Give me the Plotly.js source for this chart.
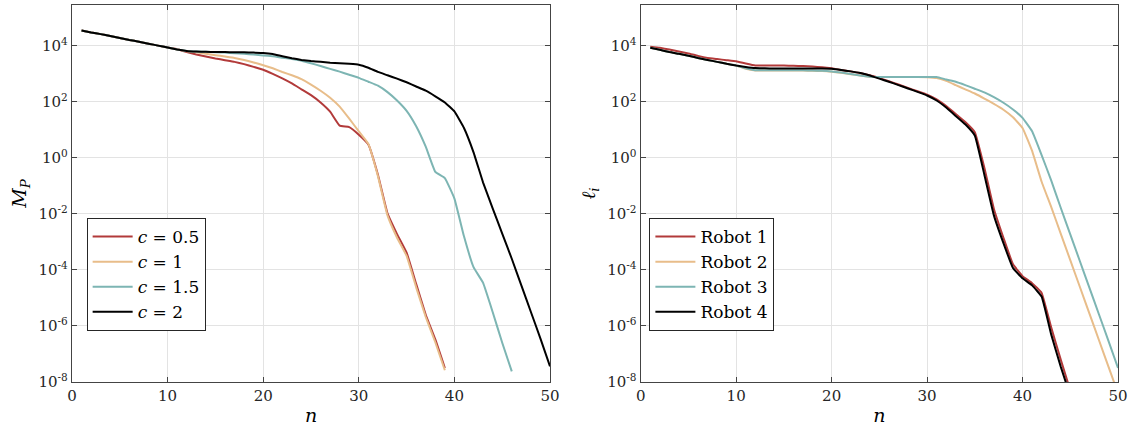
<!DOCTYPE html>
<html>
<head>
<meta charset="utf-8">
<script src="https://cdn.plot.ly/plotly-3.0.1.min.js"></script>
<style>
html,body{margin:0;padding:0;background:#fff;}
#chart{width:1139px;height:431px;}
</style>
</head>
<body>
<div id="chart"></div>
<script>
// ---------- data (log10 of the plotted values) ----------
var n = [1,2,3,4,5,6,7,8,9,10,11,12,13,14,15,16,17,18,19,20,21,22,23,24,25,26,27,28,29,30,31,32,33,34,35,36,37,38,39,40,41,42,43,44,45,46,47,48,49,50];

// Left panel: M_P for c = 0.5, 1, 1.5, 2
var logMP_c05 = [4.55,4.48,4.42,4.35,4.28,4.21,4.15,4.08,4.01,3.94,3.88,3.78,3.69,3.62,3.55,3.49,3.43,3.35,3.25,3.15,3.00,2.84,2.66,2.45,2.24,1.98,1.65,1.15,1.10,0.83,0.48,-0.60,-1.98,-2.72,-3.38,-4.50,-5.60,-6.48,-7.50];
var logMP_c1  = [4.55,4.48,4.42,4.35,4.28,4.21,4.15,4.08,4.01,3.94,3.87,3.81,3.77,3.72,3.67,3.62,3.57,3.50,3.41,3.31,3.20,3.07,2.95,2.81,2.62,2.40,2.15,1.83,1.40,0.95,0.50,-0.65,-2.05,-2.85,-3.50,-4.62,-5.68,-6.58,-7.58];
var logMP_c15 = [4.55,4.48,4.42,4.35,4.28,4.21,4.15,4.08,4.01,3.94,3.87,3.82,3.80,3.79,3.77,3.76,3.74,3.72,3.69,3.66,3.63,3.58,3.53,3.47,3.38,3.28,3.18,3.08,2.97,2.86,2.72,2.58,2.35,2.05,1.68,1.13,0.40,-0.50,-0.72,-1.45,-2.80,-3.90,-4.46,-5.50,-6.60,-7.62];
var logMP_c2  = [4.55,4.48,4.42,4.35,4.28,4.21,4.15,4.08,4.01,3.94,3.87,3.82,3.80,3.79,3.78,3.78,3.77,3.77,3.76,3.75,3.71,3.63,3.56,3.50,3.46,3.43,3.40,3.38,3.36,3.33,3.22,3.07,2.95,2.83,2.70,2.55,2.40,2.20,1.98,1.66,1.07,0.20,-0.88,-1.80,-2.70,-3.60,-4.55,-5.50,-6.45,-7.44];

// Right panel: l_i for Robots 1..4
var logL_r1 = [3.97,3.93,3.87,3.80,3.73,3.64,3.57,3.53,3.49,3.45,3.37,3.30,3.30,3.30,3.30,3.29,3.28,3.26,3.24,3.20,3.14,3.09,3.03,2.95,2.85,2.74,2.62,2.50,2.38,2.26,2.09,1.85,1.57,1.28,0.92,-0.35,-1.82,-2.85,-3.80,-4.22,-4.47,-4.82,-6.05,-7.20,-8.30];
var logL_r2 = [3.93,3.86,3.78,3.72,3.65,3.57,3.50,3.43,3.36,3.30,3.18,3.12,3.12,3.12,3.12,3.12,3.12,3.11,3.10,3.08,3.04,2.99,2.94,2.90,2.89,2.89,2.89,2.89,2.89,2.88,2.85,2.75,2.60,2.45,2.30,2.12,1.93,1.72,1.45,1.07,0.25,-0.85,-1.75,-2.70,-3.65,-4.60,-5.55,-6.50,-7.45,-8.40];
var logL_r3 = [3.93,3.86,3.78,3.72,3.65,3.57,3.50,3.43,3.36,3.30,3.20,3.13,3.13,3.13,3.13,3.13,3.13,3.12,3.11,3.09,3.05,3.00,2.94,2.90,2.89,2.89,2.89,2.89,2.89,2.89,2.89,2.80,2.72,2.60,2.47,2.34,2.17,1.97,1.73,1.43,0.95,0.10,-0.80,-1.78,-2.73,-3.68,-4.63,-5.58,-6.53,-7.50];
var logL_r4 = [3.93,3.86,3.78,3.72,3.65,3.57,3.50,3.43,3.36,3.30,3.25,3.21,3.20,3.19,3.19,3.19,3.19,3.19,3.19,3.18,3.14,3.09,3.03,2.94,2.83,2.72,2.60,2.48,2.36,2.23,2.05,1.80,1.50,1.20,0.80,-0.60,-2.05,-3.04,-3.93,-4.30,-4.55,-4.95,-6.30,-7.45,-8.50];

var leftNames  = ['<i>c</i> = 0.5', '<i>c</i> = 1', '<i>c</i> = 1.5', '<i>c</i> = 2'];
var rightNames = ['Robot 1', 'Robot 2', 'Robot 3', 'Robot 4'];
var xTicks = [0,10,20,30,40,50];
var yTickVals = [1e-8,1e-6,1e-4,1e-2,1,1e2,1e4];
var yTickText = ['10<sup>-8</sup>','10<sup>-6</sup>','10<sup>-4</sup>','10<sup>-2</sup>','10<sup>0</sup>','10<sup>2</sup>','10<sup>4</sup>'];

// ---------- styling ----------
var colors = ['#b23a3a', '#e8bd8a', '#7db5b3', '#000000'];
var FONT = 'DejaVu Serif, Liberation Serif, serif';

function toVals(arr){ return arr.map(function(v){ return Math.pow(10, v); }); }

var leftSeries  = [logMP_c05, logMP_c1, logMP_c15, logMP_c2];
var rightSeries = [logL_r1, logL_r2, logL_r3, logL_r4];

var traces = [];
leftSeries.forEach(function(s, i){
  traces.push({
    x: n.slice(0, s.length), y: toVals(s), type: 'scatter', mode: 'lines',
    name: leftNames[i], xaxis: 'x', yaxis: 'y', legend: 'legend',
    line: {color: colors[i], width: 2, shape: 'spline', smoothing: 0.3}
  });
});
rightSeries.forEach(function(s, i){
  traces.push({
    x: n.slice(0, s.length), y: toVals(s), type: 'scatter', mode: 'lines',
    name: rightNames[i], xaxis: 'x2', yaxis: 'y2', legend: 'legend2',
    line: {color: colors[i], width: 2, shape: 'spline', smoothing: 0.3}
  });
});

function xAxis(domain, anchor){
  return {
    domain: domain, anchor: anchor, range: [0, 50],
    tickvals: xTicks, ticks: 'inside', ticklen: 5, tickcolor: '#444',
    showline: true, linecolor: '#444', linewidth: 1.2, mirror: 'ticks',
    showgrid: true, gridcolor: '#e3e3e3', gridwidth: 1, zeroline: false,
    tickfont: {family: FONT, size: 15, color: '#262626'},
    title: {text: '<i>n</i>', font: {family: FONT, size: 19, color: '#000'}, standoff: 4}
  };
}
function yAxis(anchor, title){
  return {
    type: 'log', anchor: anchor, range: [-8, 5.46],
    tickvals: yTickVals, ticktext: yTickText,
    ticks: 'inside', ticklen: 5, tickcolor: '#444',
    showline: true, linecolor: '#444', linewidth: 1.2, mirror: 'ticks',
    showgrid: true, gridcolor: '#e3e3e3', gridwidth: 1, zeroline: false,
    tickfont: {family: FONT, size: 15, color: '#262626'},
    title: {text: title, font: {family: FONT, size: 19, color: '#000'}, standoff: 6}
  };
}

var legendStyle = function(x){
  return {
    x: x, y: 0.435, xanchor: 'left', yanchor: 'top',
    bgcolor: '#ffffff', bordercolor: '#262626', borderwidth: 1,
    font: {family: FONT, size: 17, color: '#000'},
    tracegroupgap: 0, itemwidth: 40
  };
};

var layout = {
  width: 1139, height: 431,
  margin: {l: 72, r: 21, t: 5, b: 49},
  paper_bgcolor: '#ffffff', plot_bgcolor: '#ffffff',
  showlegend: true,
  font: {family: FONT},
  xaxis: xAxis([0, 0.457], 'y'),
  yaxis: yAxis('x', '<i>M</i><sub><i>P</i></sub>'),
  xaxis2: xAxis([0.5437, 1], 'y2'),
  yaxis2: yAxis('x2', '<i>ℓ</i><sub><i>i</i></sub>'),
  legend: legendStyle(0.014),
  legend2: legendStyle(0.552)
};

Plotly.newPlot('chart', traces, layout, {staticPlot: true, displayModeBar: false});
</script>
</body>
</html>
